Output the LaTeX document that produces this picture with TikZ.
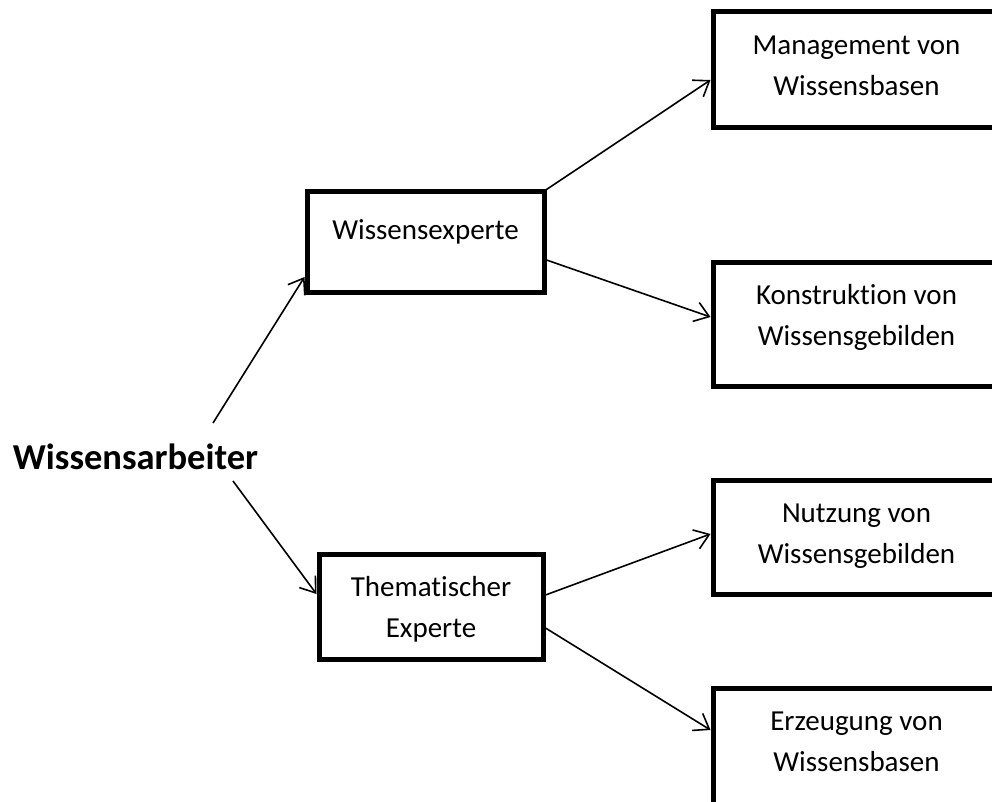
\documentclass[tikz,border=0pt]{standalone}
\usepackage{fontspec}
\setmainfont[Ligatures={NoCommon}]{Carlito}
\usetikzlibrary{arrows.meta}
\begin{document}
\begin{tikzpicture}[x=1pt,y=-1pt,
  box/.style={draw, line width=5pt, rectangle, inner sep=0pt, align=center,
    font=\fontsize{29pt}{41pt}\selectfont},
  bigbox/.style={box, minimum width=287pt},
  arr/.style={line width=1.6pt, -{Straight Barb[length=14pt,width=20pt,line width=1.6pt]}},
  root/.style={inner sep=0pt, anchor=base, font=\bfseries\fontsize{36.5pt}{40pt}\selectfont}
]
\useasboundingbox (0,0) rectangle (992,802);
\clip (0,0) rectangle (992,802);

\node[root] (wa) at (135.5,469) {Wissensarbeiter};

\node[box, minimum width=237pt, text height=47.5pt, text depth=52.5pt] (we) at (425.5,242) {Wissensexperte};
\node[box, minimum width=224pt, text height=83.5pt, text depth=21.5pt] (th) at (431,606.5) {Thematischer\\Experte};

\node[bigbox, text height=83.5pt, text depth=32.5pt] (mg) at (856.5,70) {Management von\\Wissensbasen};
\node[bigbox, text height=83.2pt, text depth=40.8pt] (ko) at (856.5,324) {Konstruktion von\\Wissensgebilden};
\node[bigbox, text height=83.5pt, text depth=30.5pt] (nu) at (856.5,537) {Nutzung von\\Wissensgebilden};
\node[bigbox, text height=83.5pt, text depth=34.5pt] (er) at (856.5,747) {Erzeugung von\\Wissensbasen};

\draw[arr] ([shift={(77.5,-46)}]wa.base) -- (we.west |- 0,277);
\draw[arr] ([shift={(97.5,12)}]wa.base) -- (th.west |- 0,594);
\draw[arr] (we.north east) -- (mg.west |- 0,80);
\draw[arr] (we.east |- 0,260) -- (ko.west |- 0,317);
\draw[arr] (th.east |- 0,595) -- (nu.west |- 0,534);
\draw[arr] (th.east |- 0,628) -- (er.west |- 0,730);
\end{tikzpicture}
\end{document}
